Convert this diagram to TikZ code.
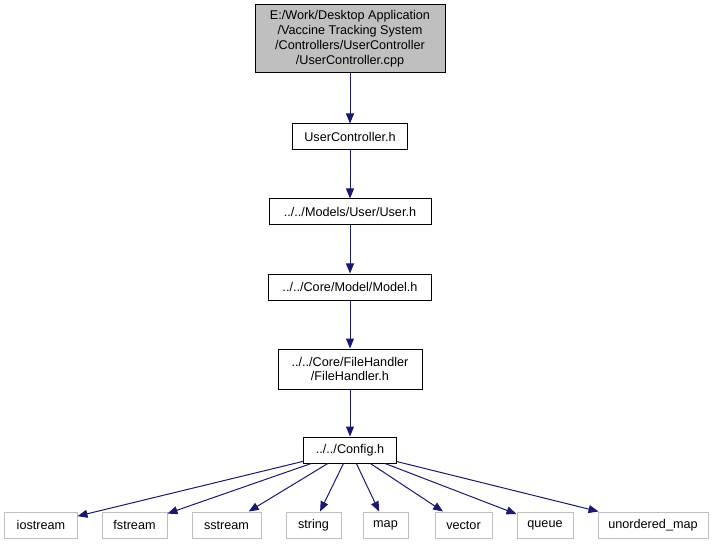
\documentclass[tikz,border=0pt]{standalone}
\usepackage{fontspec}
\setmainfont{Liberation Sans}
\usetikzlibrary{arrows.meta}
\definecolor{edgeblue}{HTML}{191970}
\definecolor{boxgray}{HTML}{BFBFBF}
\begin{document}
\begin{tikzpicture}[x=1bp,y=-1bp,
  box/.style={draw=black,line width=1bp,inner sep=0pt,minimum height=26bp,font=\fontsize{12.7}{15}\selectfont,align=center},
  extbox/.style={draw=boxgray,line width=1bp,inner sep=0pt,minimum height=26bp,font=\fontsize{12.7}{15}\selectfont},
  dep/.style={draw=edgeblue,line width=1bp,-{Triangle[length=10bp,width=8bp]},fill=none}]
\path[fill=white] (0,0) rectangle (714,544);
\useasboundingbox (0,0) rectangle (714,544);
\node[box,fill=boxgray,minimum width=190bp,minimum height=68bp] (top) at (350,39)
  {E:/Work/Desktop Application\\/Vaccine Tracking System\\/Controllers/UserController\\/UserController.cpp};
\node[box,minimum width=115bp] (uch) at (350,137) {UserController.h};
\node[box,minimum width=162bp] (user) at (350,212) {../../Models/User/User.h};
\node[box,minimum width=163bp] (model) at (350,287) {../../Core/Model/Model.h};
\node[box,minimum width=144bp,minimum height=40bp] (fh) at (350,369) {../../Core/FileHandler\\/FileHandler.h};
\node[box,minimum width=93bp] (cfg) at (350,450) {../../Config.h};
\node[extbox,minimum width=72bp] (iostream) at (41,525) {iostream};
\node[extbox,minimum width=65bp] (fstream) at (134.5,525) {fstream};
\node[extbox,minimum width=69bp] (sstream) at (226.5,525) {sstream};
\node[extbox,minimum width=55bp] (string) at (313.5,525) {string};
\node[extbox,minimum width=45bp] (map) at (385.5,525) {map};
\node[extbox,minimum width=57bp] (vector) at (463.5,525) {vector};
\node[extbox,minimum width=56bp] (queue) at (545,525) {queue};
\node[extbox,minimum width=110bp] (umap) at (653,525) {unordered\_map};
\draw[dep] (top) -- (uch);
\draw[dep] (uch) -- (user);
\draw[dep] (user) -- (model);
\draw[dep] (model) -- (fh);
\draw[dep] (fh) -- (cfg);
\foreach \t in {iostream,fstream,sstream,string,map,vector,queue,umap}
  \draw[dep] (cfg) -- (\t);
\end{tikzpicture}
\end{document}
